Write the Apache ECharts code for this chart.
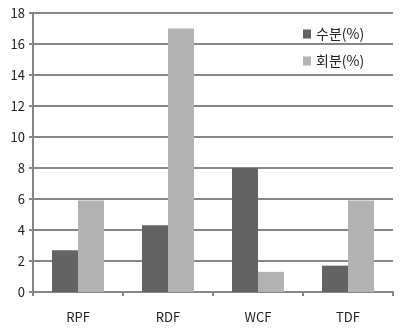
<!DOCTYPE html>
<html><head><meta charset="utf-8">
<script src="https://cdn.jsdelivr.net/npm/echarts@6/dist/echarts.min.js"></script>
<style>html,body{margin:0;padding:0;background:#fff}#c{width:400px;height:329px}</style>
</head><body><div id="c"></div>
<script>
const categories = ['RPF','RDF','WCF','TDF'];
const moisture = [2.7, 4.3, 8.0, 1.7];
const ash = [5.9, 17.0, 1.3, 5.9];
const yTicks = {min: 0, max: 18, interval: 2};
const seriesNames = ['수분(%)', '회분(%)'];

const font = '"Noto Sans CJK KR","Noto Sans",sans-serif';
const chart = echarts.init(document.getElementById('c'));
chart.setOption({
  animation: false,
  backgroundColor: '#fff',
  grid: {left: 33, right: 7, top: 13, bottom: 37},
  legend: {
    orient: 'vertical', left: 298, top: 22,
    itemWidth: 8, itemHeight: 9, itemGap: 13,
    icon: 'rect',
    textStyle: {fontSize: 14, color: '#222', fontFamily: font},
    data: seriesNames
  },
  xAxis: {
    type: 'category', data: categories,
    axisLine: {lineStyle: {color: '#868686', width: 2}},
    axisTick: {show: true, length: 4, lineStyle: {color: '#868686', width: 2}},
    axisLabel: {margin: 19, fontSize: 13, color: '#222', fontFamily: font}
  },
  yAxis: {
    type: 'value', min: yTicks.min, max: yTicks.max, interval: yTicks.interval,
    axisLine: {show: true, lineStyle: {color: '#868686', width: 2}},
    axisTick: {show: true, length: 4, lineStyle: {color: '#868686', width: 2}},
    splitLine: {lineStyle: {color: '#868686', width: 2}},
    axisLabel: {margin: 8, fontSize: 13, color: '#222', fontFamily: font}
  },
  series: [
    {name: seriesNames[0], type: 'bar', data: moisture, barWidth: 26, barGap: '0%', itemStyle: {color: '#636363'}},
    {name: seriesNames[1], type: 'bar', data: ash, barWidth: 26, barGap: '0%', itemStyle: {color: '#b2b2b2'}}
  ]
});
</script></body></html>
